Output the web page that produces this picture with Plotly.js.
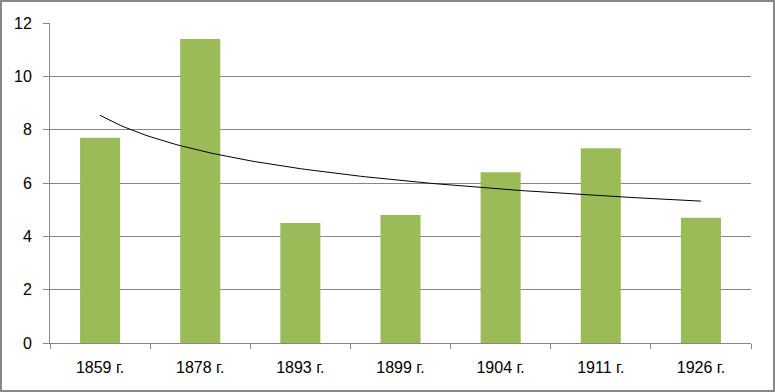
<!DOCTYPE html>
<html><head><meta charset="utf-8">
<script src="https://cdn.plot.ly/plotly-3.0.1.min.js"></script>
<style>
html,body{margin:0;padding:0;background:#fff;}
#chart{position:absolute;left:0;top:0;width:771px;height:388px;border:2px solid #898989;}
</style>
</head><body>
<div id="chart"></div>
<script>
const categories = ["1859 г.", "1878 г.", "1893 г.", "1899 г.", "1904 г.", "1911 г.", "1926 г."];
const values = [7.7, 11.4, 4.5, 4.8, 6.4, 7.3, 4.7];
const yTicks = [0, 2, 4, 6, 8, 10, 12];

// Power trendline (least squares of ln y on ln x), as in the spreadsheet chart
const n = values.length;
const lx = values.map((_, i) => Math.log(i + 1));
const ly = values.map(v => Math.log(v));
const mx = lx.reduce((a, b) => a + b, 0) / n;
const my = ly.reduce((a, b) => a + b, 0) / n;
let sxy = 0, sxx = 0;
for (let i = 0; i < n; i++) { sxy += (lx[i] - mx) * (ly[i] - my); sxx += (lx[i] - mx) ** 2; }
const b = sxy / sxx, a = Math.exp(my - b * mx);
const tx = [], ty = [];
for (let k = 0; k <= 120; k++) {
  const x = 1 + (n - 1) * k / 120;
  tx.push(x - 1); ty.push(a * Math.pow(x, b));
}

const xIdx = categories.map((_, i) => i);
const gray = '#868686';
const font = {family: 'Liberation Sans, Arial, sans-serif', size: 16, color: '#000'};

Plotly.newPlot('chart', [
  {type: 'bar', x: xIdx, y: values, width: 0.4, marker: {color: '#9BBB59'}, hoverinfo: 'y'},
  {type: 'scatter', mode: 'lines', x: tx, y: ty, line: {color: '#000', width: 1}, hoverinfo: 'skip'}
], {
  width: 771, height: 388,
  margin: {l: 48, r: 22, t: 21, b: 47},
  paper_bgcolor: '#fff', plot_bgcolor: '#fff',
  showlegend: false,
  font: font,
  xaxis: {
    type: 'linear', range: [-0.5, 6.5], fixedrange: true,
    tickmode: 'array', tickvals: xIdx, ticktext: categories,
    ticks: '', showgrid: false, zeroline: false,
    showline: true, linecolor: gray, linewidth: 1,
    tickfont: font, ticklabelstandoff: 10,
    minor: {tickmode: 'linear', tick0: -0.5, dtick: 1, ticks: 'outside', ticklen: 5, tickcolor: gray, tickwidth: 1, showgrid: false}
  },
  yaxis: {
    range: [0, 12], fixedrange: true,
    tickmode: 'array', tickvals: yTicks,
    ticks: 'outside', ticklen: 6, tickcolor: gray, tickwidth: 1,
    showgrid: true, gridcolor: gray, gridwidth: 1,
    zeroline: false, showline: true, linecolor: gray, linewidth: 1,
    tickfont: font, ticklabelstandoff: 8
  }
}, {displayModeBar: false, staticPlot: true});
</script>
</body></html>
